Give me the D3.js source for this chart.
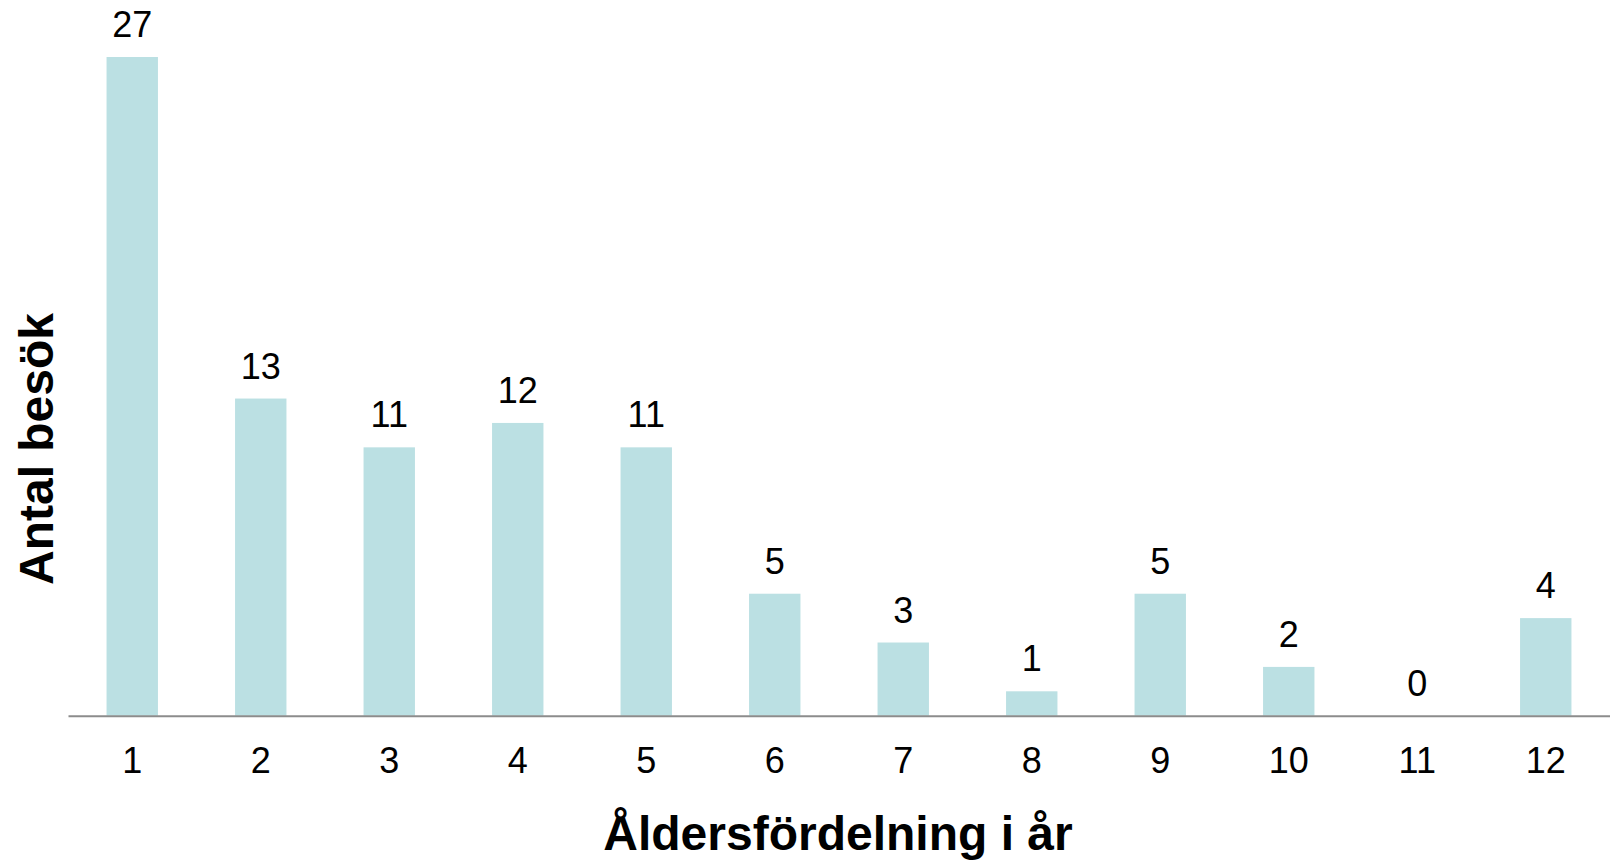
<!DOCTYPE html>
<html lang="sv">
<head>
<meta charset="utf-8">
<script src="https://cdn.jsdelivr.net/npm/d3@7/dist/d3.min.js"></script>
<style>
  html, body { margin: 0; padding: 0; background: #ffffff; }
  svg { display: block; font-family: "Liberation Sans", Arial, Helvetica, sans-serif; }
</style>
</head>
<body>
<svg id="chart" width="1610" height="861"></svg>
<script>
// Age in years (categories) and number of visits per age
const ages = ["1", "2", "3", "4", "5", "6", "7", "8", "9", "10", "11", "12"];
const visits = [27, 13, 11, 12, 11, 5, 3, 1, 5, 2, 0, 4];

const xTitle = "Åldersfördelning i år";
const yTitle = "Antal besök";

const width = 1610, height = 861;
const margin = { top: 57, right: 0, bottom: 145.3, left: 68 };
const svg = d3.select("#chart");

const x = d3.scaleBand()
  .domain(ages)
  .range([margin.left, width - margin.right])
  .paddingInner(0.6)
  .paddingOuter(0.3);

const y = d3.scaleLinear()
  .domain([0, d3.max(visits)])
  .range([height - margin.bottom, margin.top]);

const data = ages.map((a, i) => ({ age: a, value: visits[i] }));

// Bars
svg.append("g")
  .selectAll("rect")
  .data(data)
  .join("rect")
  .attr("x", d => x(d.age))
  .attr("y", d => y(d.value))
  .attr("width", x.bandwidth())
  .attr("height", d => y(0) - y(d.value))
  .attr("fill", "#bbe0e3");

// Value labels above bars
svg.append("g")
  .selectAll("text")
  .data(data)
  .join("text")
  .attr("x", d => x(d.age) + x.bandwidth() / 2)
  .attr("y", d => y(d.value) - 20)
  .attr("text-anchor", "middle")
  .attr("font-size", 36)
  .attr("fill", "#000")
  .text(d => d.value);

// X axis: baseline and category labels
const xAxis = d3.axisBottom(x).tickSize(0).tickPadding(0);
const gx = svg.append("g")
  .attr("transform", `translate(0,${y(0)})`)
  .call(xAxis);
gx.select(".domain")
  .attr("stroke", "#8c8c8c")
  .attr("stroke-width", 2);
gx.selectAll(".tick text")
  .attr("font-size", 36)
  .attr("fill", "#000")
  .attr("font-family", "Liberation Sans, Arial, sans-serif")
  .attr("dy", null)
  .attr("y", 57);

// Axis titles
svg.append("text")
  .attr("x", (margin.left + width) / 2 - 1)
  .attr("y", 850)
  .attr("text-anchor", "middle")
  .attr("font-size", 48)
  .attr("font-weight", "bold")
  .attr("fill", "#000")
  .text(xTitle);

svg.append("text")
  .attr("transform", `translate(53,449) rotate(-90)`)
  .attr("text-anchor", "middle")
  .attr("font-size", 48)
  .attr("font-weight", "bold")
  .attr("fill", "#000")
  .text(yTitle);
</script>
</body>
</html>
